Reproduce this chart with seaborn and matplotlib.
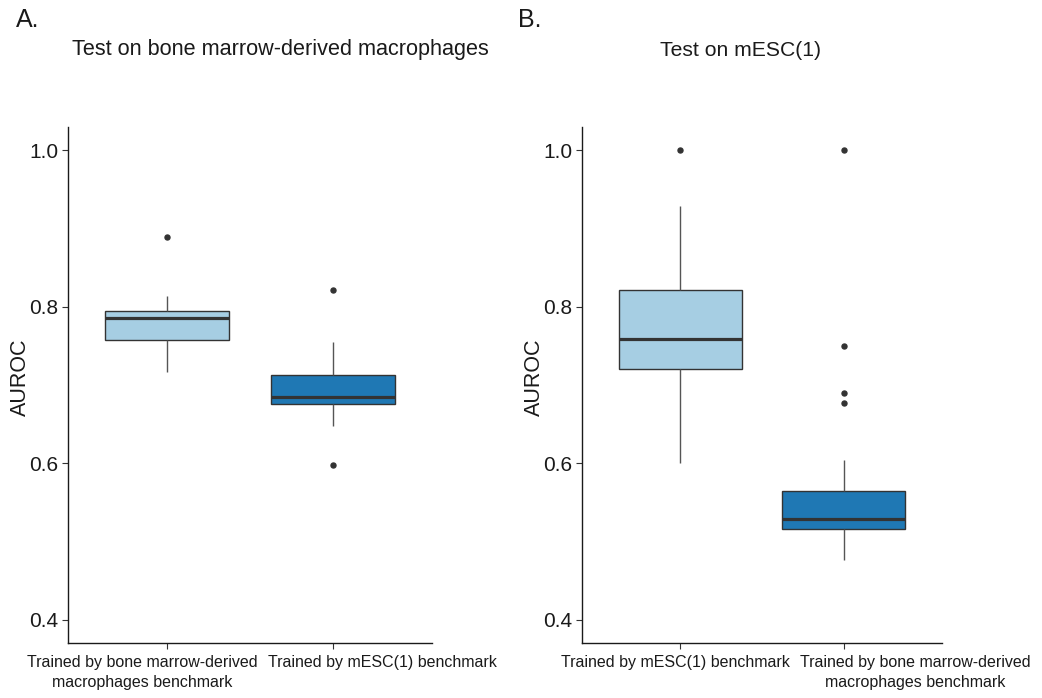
import matplotlib
matplotlib.use("Agg")
import matplotlib.pyplot as plt
import matplotlib.transforms as mtransforms
import seaborn as sns
import pandas as pd

# ---------------- data (AUROC values) ----------------
cat_bmdm = "Trained by bone marrow-derived\nmacrophages benchmark"
cat_mesc = "Trained by mESC(1) benchmark"

# Panel A: test on bone marrow-derived macrophages
a_trained_bmdm = [0.717, 0.717, 0.758, 0.758, 0.758, 0.758, 0.758, 0.758, 0.786,
                  0.795, 0.795, 0.795, 0.795, 0.795, 0.795, 0.814, 0.889]
a_trained_mesc = [0.598, 0.648, 0.676, 0.676, 0.676, 0.676, 0.676, 0.676, 0.685,
                  0.713, 0.713, 0.713, 0.713, 0.713, 0.713, 0.755, 0.822]

# Panel B: test on mESC(1)
b_trained_mesc = [0.600, 0.600, 0.721, 0.721, 0.721, 0.721, 0.721, 0.721, 0.759,
                  0.821, 0.821, 0.821, 0.821, 0.821, 0.821, 0.929, 1.000]
b_trained_bmdm = [0.476, 0.476, 0.476, 0.476, 0.476,
                  0.516, 0.516, 0.516, 0.516, 0.516, 0.516, 0.529,
                  0.564, 0.564, 0.564, 0.564, 0.564, 0.564,
                  0.604, 0.677, 0.690, 0.750, 1.000]

order_a = [cat_bmdm, cat_mesc]
order_b = [cat_mesc, cat_bmdm]
box_colors = ["#A6CEE3", "#1F78B4"]
y_ticks = [0.4, 0.6, 0.8, 1.0]
y_tick_labels = ["0.4", "0.6", "0.8", "1.0"]

df_a = pd.DataFrame({
    "group": [cat_bmdm] * len(a_trained_bmdm) + [cat_mesc] * len(a_trained_mesc),
    "AUROC": a_trained_bmdm + a_trained_mesc,
})
df_b = pd.DataFrame({
    "group": [cat_mesc] * len(b_trained_mesc) + [cat_bmdm] * len(b_trained_bmdm),
    "AUROC": b_trained_mesc + b_trained_bmdm,
})

# ---------------- style ----------------
sns.set_style("white")
plt.rcParams["font.family"] = ["Liberation Sans", "DejaVu Sans"]

fig = plt.figure(figsize=(10.42, 6.98), dpi=100)
W, H = 1042, 698

def px_axes(left, right, top, bottom):
    return fig.add_axes([left / W, 1 - bottom / H, (right - left) / W, (bottom - top) / H])

ax_a = px_axes(68, 432, 127, 643)
ax_b = px_axes(582, 942, 127, 643)

edge = "#333333"
txt = "#1a1a1a"

def draw(ax, df, order, offsets):
    sns.boxplot(
        data=df, x="group", y="AUROC", hue="group", order=order, hue_order=order,
        palette=box_colors, saturation=1, width=0.75, legend=False, ax=ax,
        showcaps=False, whis=1.5, linecolor=edge, linewidth=1.0,
        boxprops=dict(edgecolor=edge, linewidth=1.0),
        medianprops=dict(color=edge, linewidth=2.3),
        whiskerprops=dict(color="#555555", linewidth=1.0),
        flierprops=dict(marker="o", markerfacecolor=edge, markeredgecolor=edge,
                        markersize=3.6, linestyle="none"),
    )
    ax.set_xlim(-0.6, 1.6)
    ax.set_ylim(0.37, 1.03)
    ax.set_yticks(y_ticks)
    ax.set_yticklabels(y_tick_labels)
    ax.set_xlabel("")
    ax.set_ylabel("AUROC", fontsize=15.5, color=txt)
    ax.yaxis.set_label_coords(-0.102, 0.515)
    for s in ["top", "right"]:
        ax.spines[s].set_visible(False)
    for s in ["left", "bottom"]:
        ax.spines[s].set_color(txt)
        ax.spines[s].set_linewidth(1.0)
    ax.tick_params(axis="y", which="major", length=4, width=0.8, color="#333333",
                   labelsize=15, labelcolor=txt, pad=3, left=True)
    ax.tick_params(axis="x", which="major", length=4, width=0.8, color="#333333",
                   labelsize=11.5, labelcolor=txt, pad=5, bottom=True)
    for lab, dx in zip(ax.get_xticklabels(), offsets):
        lab.set_multialignment("center")
        lab.set_linespacing(1.35)
        lab.set_transform(lab.get_transform() +
                          mtransforms.ScaledTranslation(dx / 100, 0, fig.dpi_scale_trans))

draw(ax_a, df_a, order_a, [-25, 50])
draw(ax_b, df_b, order_b, [-5, 71])

fig.text(16 / W, 1 - 20 / H, "A.", fontsize=18, ha="left", va="center", color=txt)
fig.text(518 / W, 1 - 20 / H, "B.", fontsize=18, ha="left", va="center", color=txt)
fig.text(280 / W, 1 - 50 / H, "Test on bone marrow-derived macrophages", fontsize=15.6,
         ha="center", va="center", color=txt)
fig.text(741 / W, 1 - 50 / H, "Test on mESC(1)", fontsize=15.2,
         ha="center", va="center", color=txt)

fig.savefig("out.png", dpi=100, facecolor="white")
